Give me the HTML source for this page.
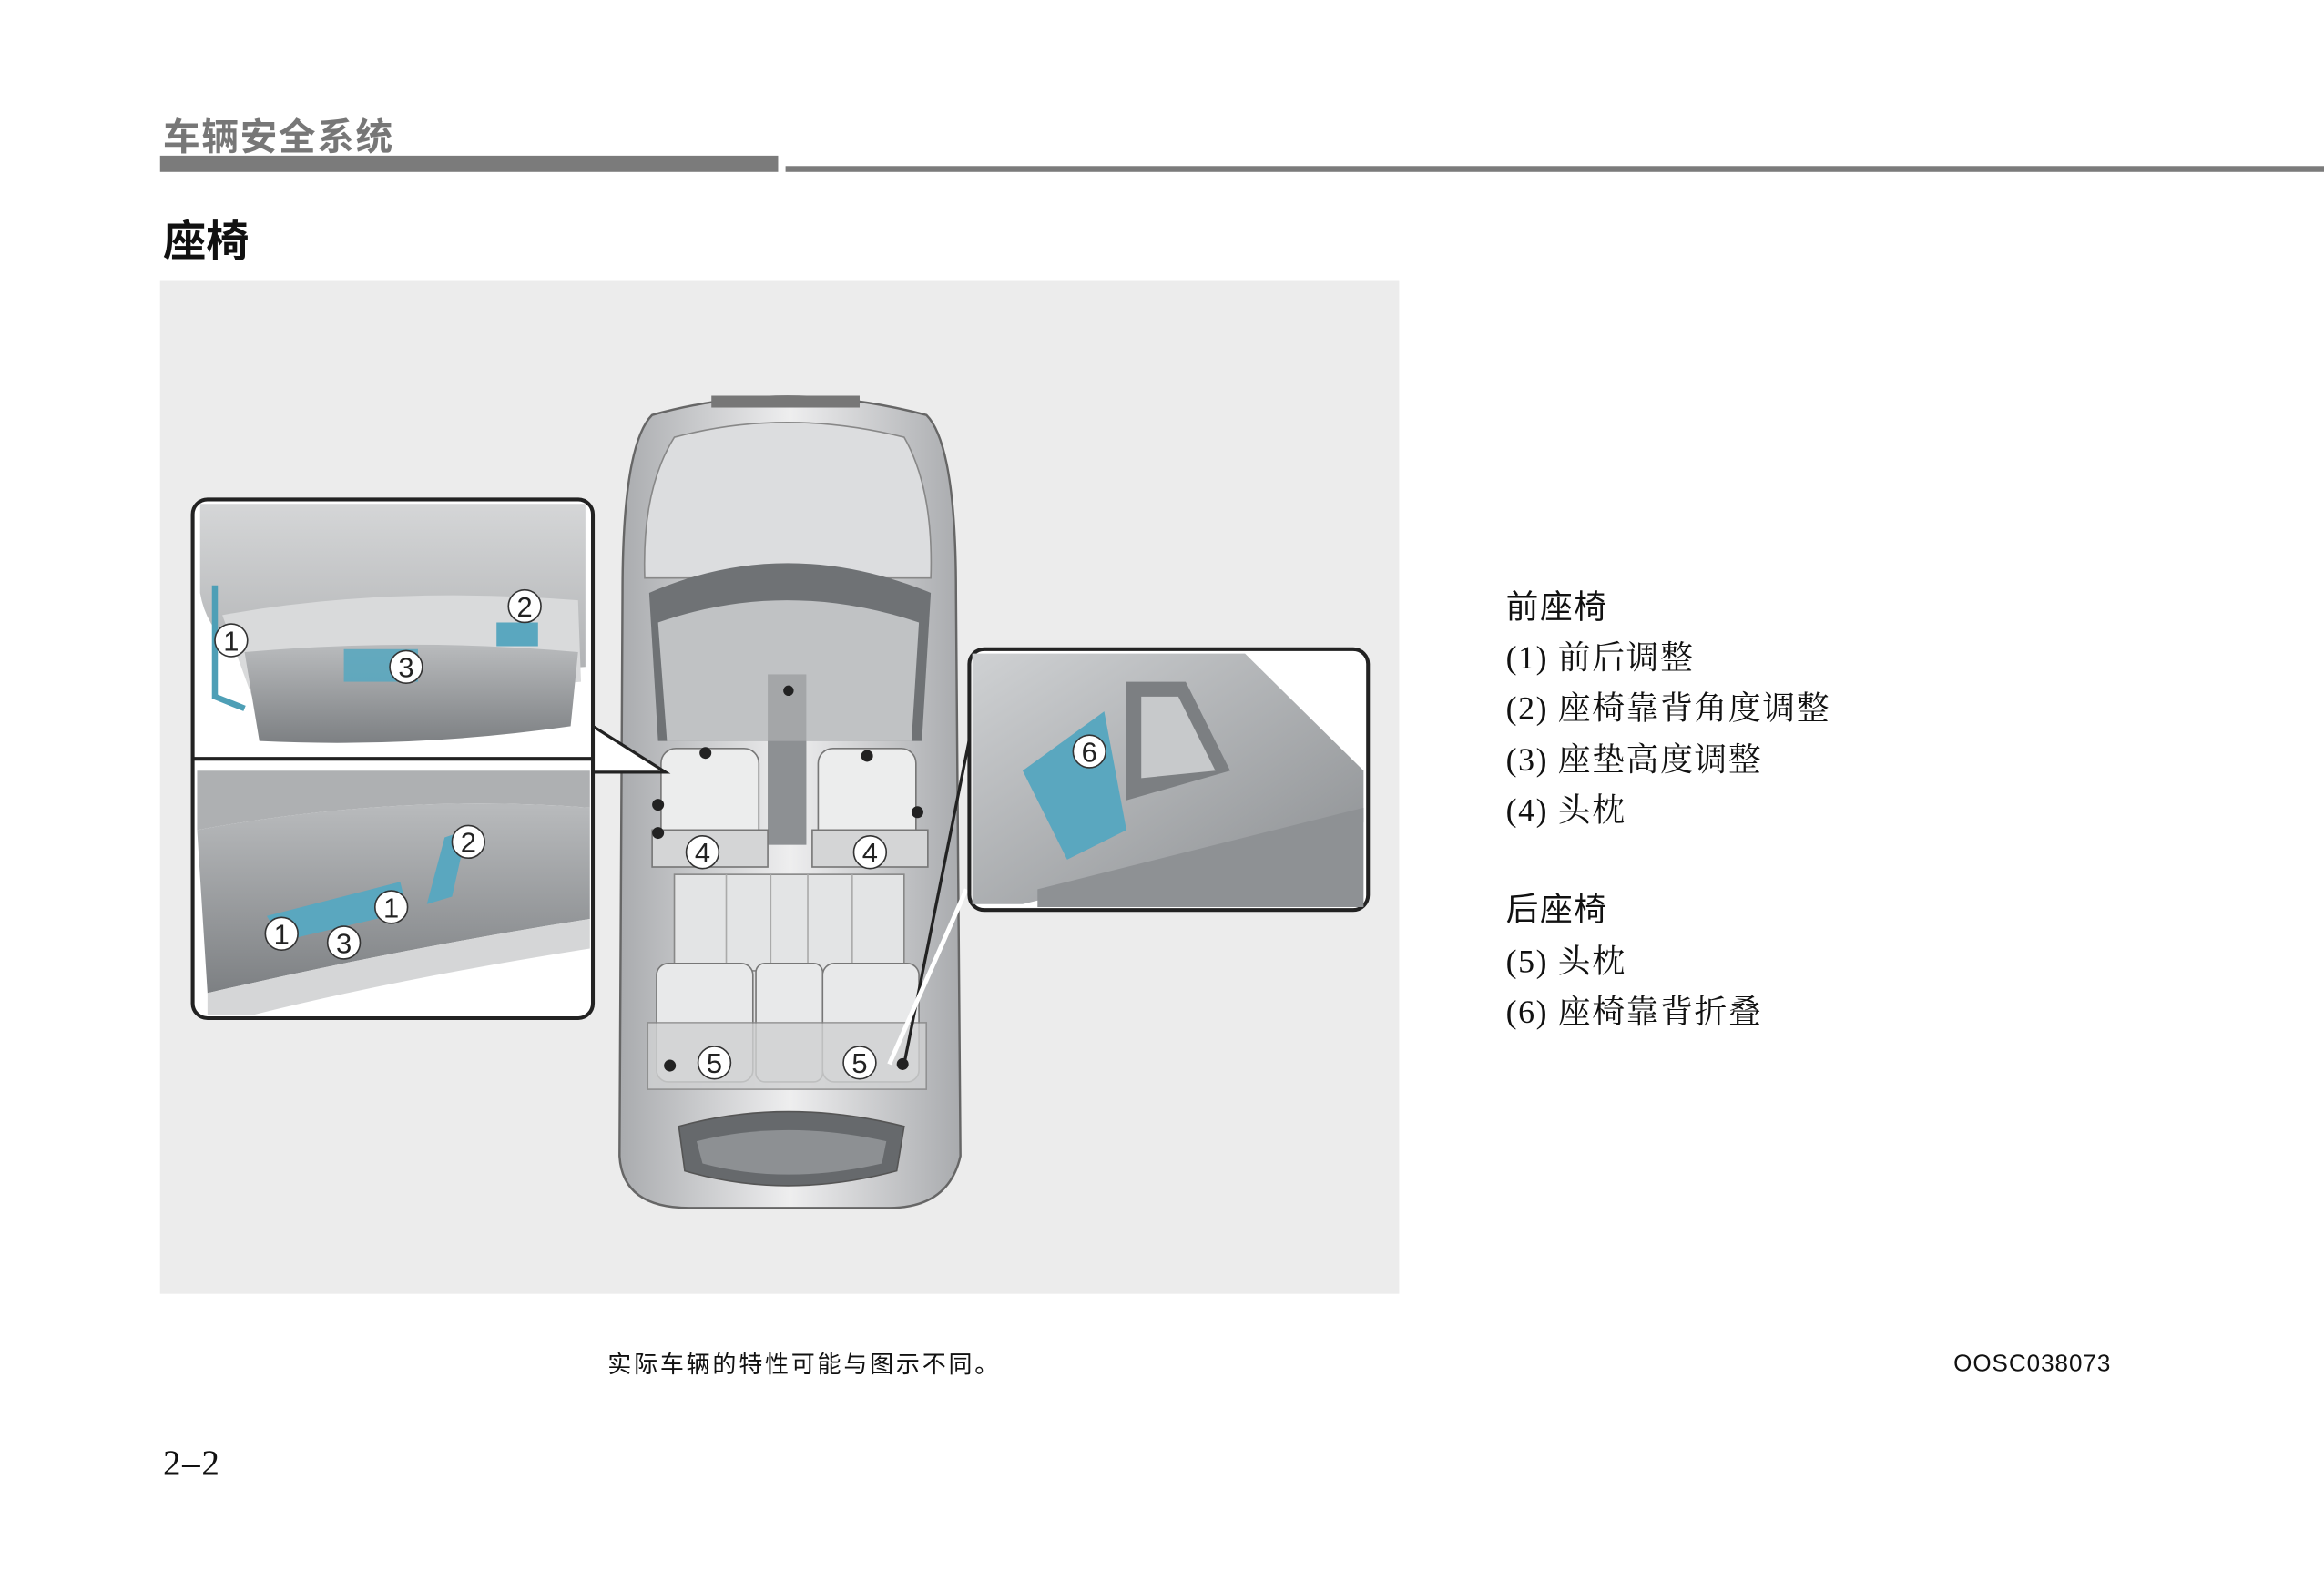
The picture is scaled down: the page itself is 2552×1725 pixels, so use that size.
<!DOCTYPE html>
<html><head><meta charset="utf-8"><style>
html,body{margin:0;padding:0;background:#fff;}
svg{display:block;}
text{font-family:"Liberation Sans","Noto Sans CJK SC",sans-serif;}
.s{font-family:"Liberation Serif","Noto Serif CJK SC",serif;}
.n{font-family:"Liberation Sans",sans-serif;font-size:19px;fill:#222;text-anchor:middle;}
</style></head><body>
<svg width="2552" height="1725" viewBox="0 0 1568 1060" preserveAspectRatio="none" xmlns="http://www.w3.org/2000/svg">
<defs>
<linearGradient id="g1" x1="0" y1="0" x2="1" y2="0"><stop offset="0" stop-color="#a9abae"/><stop offset="0.5" stop-color="#eeeeef"/><stop offset="1" stop-color="#a9abae"/></linearGradient>
<linearGradient id="g2" x1="0" y1="0" x2="0" y2="1"><stop offset="0" stop-color="#b9bbbd"/><stop offset="1" stop-color="#7d8083"/></linearGradient>
<linearGradient id="g3" x1="0" y1="0" x2="1" y2="1"><stop offset="0" stop-color="#cfd1d3"/><stop offset="1" stop-color="#8a8d90"/></linearGradient>
</defs>
<!-- header -->
<text x="110" y="101" font-size="25" font-weight="bold" fill="#777" letter-spacing="1">车辆安全系统</text>
<rect x="108" y="105" width="417" height="11" fill="#7b7b7b"/>
<rect x="530" y="112" width="1038" height="4" fill="#7b7b7b"/>
<text x="110" y="173" font-size="29" font-weight="bold" fill="#111">座椅</text>
<!-- panel -->
<rect x="108" y="189" width="836" height="684" fill="#ececec"/>

<!-- car body -->
<path d="M440 280 Q530 255 625 280 Q645 300 645 400 L648 780 Q640 815 600 815 L465 815 Q420 815 418 780 L420 400 Q420 300 440 280 Z" fill="url(#g1)" stroke="#666" stroke-width="1.5"/>
<path d="M455 295 Q530 275 610 295 Q630 330 628 390 L435 390 Q433 330 455 295Z" fill="#dcdddf" stroke="#888"/>
<rect x="480" y="267" width="100" height="8" fill="#777"/>
<path d="M438 400 Q530 360 628 400 L622 500 L444 500 Z" fill="#6f7275"/>
<path d="M444 420 Q530 390 620 420 L615 500 L450 500 Z" fill="#c9cbcd" opacity="0.9"/>
<rect x="518" y="455" width="26" height="115" fill="#a4a6a8"/>
<circle cx="532" cy="466" r="3.5" fill="#222"/>
<rect x="518" y="500" width="26" height="70" fill="#8d9093"/>
<!-- front seats -->
<rect x="446" y="505" width="66" height="75" rx="10" fill="#eceded" stroke="#777"/>
<rect x="552" y="505" width="66" height="75" rx="10" fill="#eceded" stroke="#777"/>
<rect x="440" y="560" width="78" height="25" fill="#d4d5d6" stroke="#777"/>
<rect x="548" y="560" width="78" height="25" fill="#d4d5d6" stroke="#777"/>
<circle cx="476" cy="508" r="4" fill="#222"/><circle cx="585" cy="510" r="4" fill="#222"/>
<circle cx="444" cy="543" r="4" fill="#222"/><circle cx="619" cy="548" r="4" fill="#222"/><circle cx="444" cy="562" r="4" fill="#222"/>
<!-- cargo floor -->
<rect x="455" y="590" width="155" height="65" fill="#e3e4e5" stroke="#888"/>
<line x1="490" y1="590" x2="490" y2="655" stroke="#aaa"/><line x1="520" y1="590" x2="520" y2="655" stroke="#aaa"/><line x1="545" y1="590" x2="545" y2="655" stroke="#aaa"/><line x1="575" y1="590" x2="575" y2="655" stroke="#aaa"/>
<!-- rear seats -->
<rect x="443" y="650" width="65" height="80" rx="8" fill="#e8e9ea" stroke="#777"/>
<rect x="510" y="650" width="45" height="80" rx="6" fill="#e8e9ea" stroke="#777"/>
<rect x="555" y="650" width="65" height="80" rx="8" fill="#e8e9ea" stroke="#777"/>
<rect x="437" y="690" width="188" height="45" fill="#d0d1d2" stroke="#888" opacity="0.8"/>
<circle cx="452" cy="719" r="4" fill="#222"/><circle cx="609" cy="718" r="4" fill="#222"/>
<!-- rear window -->
<path d="M458 760 Q530 740 610 760 L605 790 Q530 810 462 790 Z" fill="#66696c" stroke="#555"/>
<path d="M470 770 Q530 755 598 770 L595 785 Q530 800 474 785Z" fill="#8d9093"/>
<!-- number circles car -->
<circle cx="474" cy="575" r="11" fill="#fff" stroke="#333"/><text class="n" x="474" y="582">4</text>
<circle cx="587" cy="575" r="11" fill="#fff" stroke="#333"/><text class="n" x="587" y="582">4</text>
<circle cx="482" cy="717" r="11" fill="#fff" stroke="#333"/><text class="n" x="482" y="724">5</text>
<circle cx="580" cy="717" r="11" fill="#fff" stroke="#333"/><text class="n" x="580" y="724">5</text>

<!-- callout lines -->
<polygon points="400,490 449,521 400,521" fill="#fff" stroke="#222" stroke-width="2"/>
<line x1="610" y1="718" x2="657" y2="484" stroke="#222" stroke-width="2"/>
<line x1="600" y1="718" x2="652" y2="600" stroke="#fff" stroke-width="3"/>

<!-- left top inset -->
<rect x="130" y="337" width="270" height="350" rx="10" fill="#fff" stroke="#222" stroke-width="2.5"/>
<path d="M135 340 L395 340 L395 450 Q300 455 170 445 Q140 430 135 400Z" fill="url(#g2)" opacity="0.6"/>
<path d="M150 415 Q260 395 390 405 L392 460 Q300 470 170 470 Z" fill="#d9dadb"/>
<path d="M165 440 Q280 430 390 440 L385 490 Q280 505 175 500 Z" fill="url(#g2)"/>
<rect x="232" y="438" width="50" height="22" fill="#5aa7bf" opacity="0.9"/>
<rect x="335" y="420" width="28" height="16" fill="#5aa7bf"/>
<path d="M145 395 L145 470 L165 478" fill="none" stroke="#4e9fb6" stroke-width="4"/>
<circle cx="156" cy="432" r="11" fill="#fff" stroke="#333"/><text class="n" x="156" y="439">1</text>
<circle cx="354" cy="409" r="11" fill="#fff" stroke="#333"/><text class="n" x="354" y="416">2</text>
<circle cx="274" cy="450" r="11" fill="#fff" stroke="#333"/><text class="n" x="274" y="457">3</text>
<line x1="131" y1="512" x2="399" y2="512" stroke="#222" stroke-width="2.5"/>
<!-- left bottom inset -->
<path d="M133 520 L398 520 L398 545 Q270 535 133 560 Z" fill="#aeb0b2"/>
<path d="M133 560 Q270 535 398 545 L398 620 Q270 640 140 670 Z" fill="url(#g2)"/>
<path d="M140 670 Q270 640 398 620 L398 640 Q270 660 170 685 L140 685Z" fill="#d5d6d7"/>
<path d="M180 618 L270 595 L275 615 L190 635Z" fill="#5aa7bf"/>
<path d="M288 610 L300 565 L315 560 L305 605Z" fill="#5aa7bf"/>
<circle cx="190" cy="630" r="11" fill="#fff" stroke="#333"/><text class="n" x="190" y="637">1</text>
<circle cx="264" cy="612" r="11" fill="#fff" stroke="#333"/><text class="n" x="264" y="619">1</text>
<circle cx="316" cy="568" r="11" fill="#fff" stroke="#333"/><text class="n" x="316" y="575">2</text>
<circle cx="232" cy="636" r="11" fill="#fff" stroke="#333"/><text class="n" x="232" y="643">3</text>

<!-- right inset -->
<rect x="654" y="438" width="269" height="176" rx="10" fill="#fff" stroke="#222" stroke-width="2.5"/>
<path d="M656 441 L840 441 L920 520 L920 555 L690 610 L656 610Z" fill="url(#g3)"/>
<path d="M760 460 L800 460 L830 520 L760 540Z" fill="#7c7f82"/>
<path d="M770 470 L795 470 L820 520 L770 525Z" fill="#c7c9cb"/>
<path d="M690 520 L745 480 L760 560 L720 580 Z" fill="#5aa7bf"/>
<path d="M700 600 L920 545 L920 612 L700 612Z" fill="#8e9194"/>
<circle cx="735" cy="507" r="11" fill="#fff" stroke="#333"/><text class="n" x="735" y="514">6</text>

<!-- right text -->
<g font-size="22" fill="#111" letter-spacing="1">
<text x="1016" y="417">前座椅</text>
<text x="1016" y="451" class="s">(1) 前后调整</text>
<text x="1016" y="485" class="s">(2) 座椅靠背角度调整</text>
<text x="1016" y="520" class="s">(3) 座垫高度调整</text>
<text x="1016" y="554" class="s">(4) 头枕</text>
<text x="1016" y="621">后座椅</text>
<text x="1016" y="656" class="s">(5) 头枕</text>
<text x="1016" y="690" class="s">(6) 座椅靠背折叠</text>
</g>
<text x="410" y="926" font-size="16" fill="#111" letter-spacing="1.7">实际车辆的特性可能与图示不同。</text>
<text x="1318" y="925" font-size="16" fill="#111" letter-spacing="0.6">OOSC038073</text>
<text x="110" y="995" font-size="24" class="s" fill="#111" letter-spacing="1">2–2</text>
</svg>
</body></html>
